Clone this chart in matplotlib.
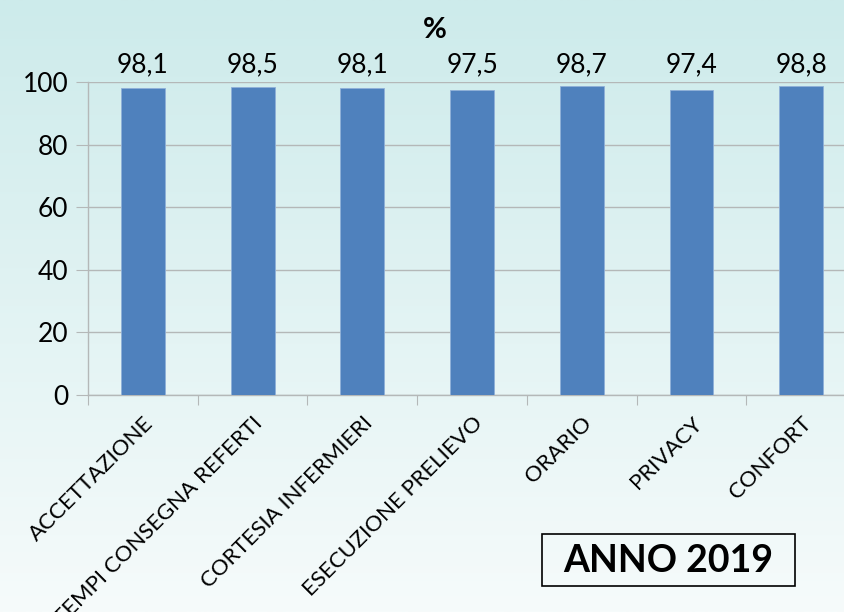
import numpy as np
import matplotlib
matplotlib.use("Agg")
import matplotlib.pyplot as plt
from matplotlib.colors import LinearSegmentedColormap
from matplotlib.patches import Rectangle

categories = ["ACCETTAZIONE", "TEMPI CONSEGNA REFERTI", "CORTESIA INFERMIERI",
              "ESECUZIONE PRELIEVO", "ORARIO", "PRIVACY", "CONFORT"]
values = [98.1, 98.5, 98.1, 97.5, 98.7, 97.4, 98.8]
value_labels = ["98,1", "98,5", "98,1", "97,5", "98,7", "97,4", "98,8"]
yticks = [0, 20, 40, 60, 80, 100]

plt.rcParams["font.family"] = ["Lato", "DejaVu Sans"]

W, H = 844, 612
fig = plt.figure(figsize=(W / 100, H / 100), dpi=100)

# background gradient (teal at top, almost white at bottom)
bg = fig.add_axes([0, 0, 1, 1], zorder=-10)
grad = np.linspace(0, 1, 256).reshape(-1, 1)
cmap = LinearSegmentedColormap.from_list("bg", ["#cdebeb", "#f6fbfb"])
bg.imshow(grad, aspect="auto", cmap=cmap, extent=[0, 1, 0, 1])
bg.axis("off")

ax = fig.add_axes([88 / W, 1 - 395 / H, 1 - 88 / W, 313 / H])
ax.set_facecolor("none")

x = np.arange(len(categories))
ax.bar(x, values, width=0.4, color="#4f81bd", edgecolor="#8fb0d8",
       linewidth=0.6, zorder=3)

for xi, v, lab in zip(x, values, value_labels):
    ax.text(xi, 101.5, lab, ha="center", va="bottom", fontsize=19, color="black")

ax.set_ylim(0, 100)
ax.set_xlim(-0.5, 6.39)
ax.set_yticks(yticks)
ax.set_yticklabels([str(t) for t in yticks], fontsize=19)
ax.yaxis.grid(True, color="#b4b8b8", linewidth=1.0, zorder=0)
ax.tick_params(axis="y", length=9, color="#b4b8b8", pad=5)

# category boundary ticks
ax.set_xticks(np.arange(-0.5, 6.5, 1.0))
ax.set_xticklabels([])
ax.tick_params(axis="x", which="major", length=7, color="#b4b8b8")
ax.set_xticks(x, minor=True)
ax.set_xticklabels(categories, minor=True, rotation=45, ha="right",
                   rotation_mode="anchor", fontsize=16)
ax.tick_params(axis="x", which="minor", length=0, pad=13)

for s in ["top", "right"]:
    ax.spines[s].set_visible(False)
for s in ["left", "bottom"]:
    ax.spines[s].set_color("#b4b8b8")
    ax.spines[s].set_linewidth(1.0)

fig.text(435 / W, 1 - 30 / H, "%", ha="center", va="center",
         fontsize=21, fontweight="bold")

# "ANNO 2019" label in a framed box
fig.patches.append(Rectangle((542 / W, 1 - 586 / H), 253 / W, 52 / H,
                             transform=fig.transFigure, facecolor="none",
                             edgecolor="black", linewidth=1.2))
fig.text(668 / W, 1 - 561 / H, "ANNO 2019", ha="center", va="center",
         fontsize=27, fontweight="bold")

fig.savefig("out.png", dpi=100)
